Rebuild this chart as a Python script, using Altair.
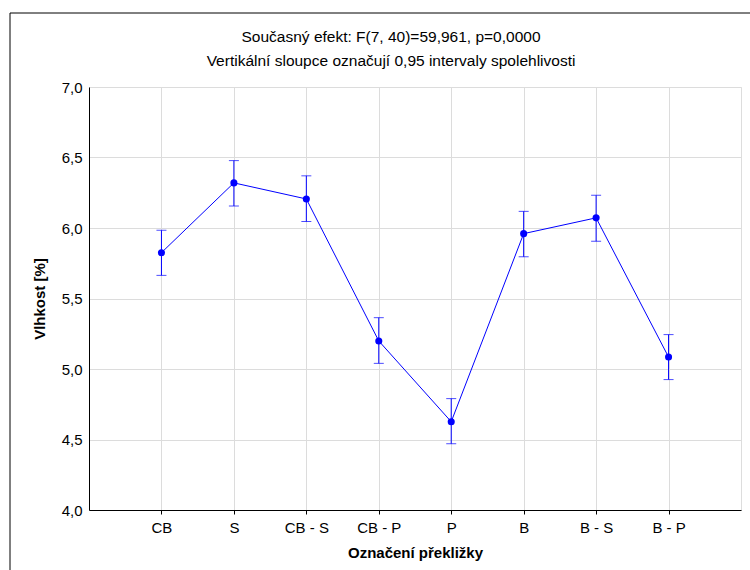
import altair as alt
import pandas as pd

categories = ["CB", "S", "CB - S", "CB - P", "P", "B", "B - S", "B - P"]
means = [5.825, 6.320, 6.206, 5.199, 4.626, 5.960, 6.072, 5.085]
lower = [5.664, 6.156, 6.046, 5.040, 4.470, 5.796, 5.906, 4.925]
upper = [5.984, 6.478, 6.370, 5.364, 4.790, 6.118, 6.232, 5.244]
title_lines = ["Současný efekt: F(7, 40)=59,961, p=0,0000",
               "Vertikální sloupce označují 0,95 intervaly spolehlivosti"]

df = pd.DataFrame({"cat": categories, "mean": means, "lo": lower, "hi": upper})

FONT = "Liberation Sans"
BLUE = "#0000ff"

x_enc = alt.X("cat:N", sort=categories, scale=alt.Scale(type="point", padding=1),
              title="Označení překližky",
              axis=alt.Axis(labelAngle=0, labelFontSize=15, labelFont=FONT, labelColor="black",
                            titleFontSize=15, titleFont=FONT, titleFontWeight="bold", titleColor="black",
                            titlePadding=10, labelPadding=6, tickSize=4, tickColor="black",
                            domainColor="black", gridColor="#dcdcdc", grid=True))
y_scale = alt.Scale(domain=[4.0, 7.0], nice=False)
y_axis = alt.Axis(values=[4.0, 4.5, 5.0, 5.5, 6.0, 6.5, 7.0],
                  labelExpr="replace(format(datum.value, '.1f'), '.', ',')",
                  labelFontSize=15, labelFont=FONT, labelColor="black",
                  titleFontSize=15, titleFont=FONT, titleFontWeight="bold", titleColor="black",
                  titlePadding=14, labelPadding=7, ticks=False, domainColor="black",
                  gridColor="#dcdcdc", grid=True)

base = alt.Chart(df)

line = base.mark_line(color=BLUE, strokeWidth=1).encode(
    x=x_enc, y=alt.Y("mean:Q", scale=y_scale, axis=y_axis, title="Vlhkost [%]"))
rule = base.mark_rule(color=BLUE, strokeWidth=1).encode(
    x=alt.X("cat:N", sort=categories), y="lo:Q", y2="hi:Q")
cap_lo = base.mark_tick(color=BLUE, size=10, thickness=1, orient="horizontal").encode(
    x=alt.X("cat:N", sort=categories), y="lo:Q")
cap_hi = base.mark_tick(color=BLUE, size=10, thickness=1, orient="horizontal").encode(
    x=alt.X("cat:N", sort=categories), y="hi:Q")
pts = base.mark_point(color=BLUE, filled=True, size=50, opacity=1).encode(
    x=alt.X("cat:N", sort=categories), y="mean:Q")

one = alt.Chart(pd.DataFrame({"a": [0]}))
frame = one.mark_rect(filled=False, stroke="black", strokeWidth=1).encode(
    x=alt.value(-79), y=alt.value(-74), x2=alt.value(720), y2=alt.value(520))
t1 = one.mark_text(text=title_lines[0], font=FONT, fontSize=15.5, color="black",
                   align="center", baseline="alphabetic").encode(
    x=alt.value(302), y=alt.value(-45))
t2 = one.mark_text(text=title_lines[1], font=FONT, fontSize=15.5, color="black",
                   align="center", baseline="alphabetic").encode(
    x=alt.value(302), y=alt.value(-21))

chart = alt.layer(frame, t1, t2, line, rule, cap_lo, cap_hi, pts).properties(
    width=652, height=423,
    autosize=alt.AutoSizeParams(type="none"),
    padding={"left": 89, "top": 87, "right": 9, "bottom": 60},
).configure_view(stroke="black", strokeWidth=1).configure(background="white")

chart.save("out.html", embed_options={"renderer": "svg", "actions": False})
